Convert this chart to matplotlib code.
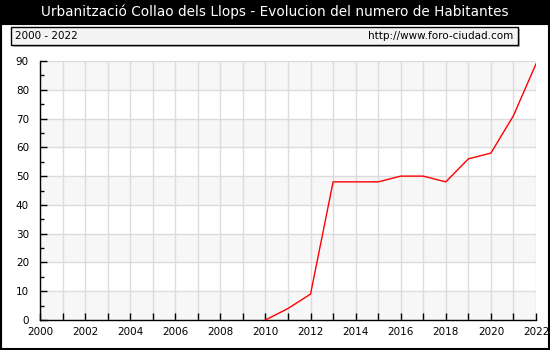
import numpy as np
import matplotlib.pyplot as plt
from matplotlib.patches import Rectangle

years = [2010, 2011, 2012, 2013, 2014, 2015, 2016, 2017, 2018, 2019, 2020, 2021, 2022]
habitantes = [0, 4, 9, 48, 48, 48, 50, 50, 48, 56, 58, 71, 89]

title = "Urbanització Collao dels Llops - Evolucion del numero de Habitantes"
W, H = 550, 350

fig = plt.figure(figsize=(5.5, 3.5), dpi=100)
fig.patch.set_facecolor("white")

# title bar
fig.patches.append(Rectangle((0, 1 - 24 / H), 1, 24 / H, transform=fig.transFigure,
                             facecolor="black", edgecolor="none", zorder=0))
fig.text(0.5, 1 - 12 / H, title, color="white", ha="center", va="center", fontsize=9.8)

# frame around the rest
fig.patches.append(Rectangle((1 / W, 1 / H), 548 / W, (H - 25) / H, transform=fig.transFigure,
                             facecolor="none", edgecolor="black", linewidth=1.5, zorder=0))

# info box with shadow
fig.patches.append(Rectangle((13 / W, 1 - 47 / H), 507 / W, 18 / H, transform=fig.transFigure,
                             facecolor="#bbbbbb", edgecolor="none", zorder=1))
fig.patches.append(Rectangle((11 / W, 1 - 45 / H), 507 / W, 18 / H, transform=fig.transFigure,
                             facecolor="#f4f4f4", edgecolor="black", linewidth=1, zorder=2))
fig.text(15 / W, 1 - 36 / H, "2000 - 2022", fontsize=7.5, va="center", zorder=3)
fig.text(513 / W, 1 - 36 / H, "http://www.foro-ciudad.com", fontsize=7.5, va="center",
         ha="right", zorder=3)

ax = fig.add_axes([40 / W, 1 - 320 / H, 496 / W, 259 / H])
ax.set_xlim(2000, 2022)
ax.set_ylim(0, 90)

for lo in range(0, 90, 20):
    ax.axhspan(lo, lo + 10, color="#f7f7f7", zorder=0, linewidth=0)

ax.set_xticks(range(2000, 2023))
ax.set_xticklabels([str(y) if y % 2 == 0 else "" for y in range(2000, 2023)])
ax.set_yticks(range(0, 91, 10))
ax.set_yticks(range(5, 90, 10), minor=True)
ax.grid(True, which="major", color="#dcdcdc", linewidth=1, zorder=1)
ax.set_axisbelow(True)

ax.plot(years, habitantes, color="red", linewidth=1, zorder=3)

for s in ["top", "right"]:
    ax.spines[s].set_visible(False)
ax.spines["left"].set_linewidth(1)
ax.spines["bottom"].set_linewidth(1)
ax.tick_params(axis="both", labelsize=7.5, width=1, direction="in")
ax.tick_params(axis="y", which="major", length=5, pad=8)
ax.tick_params(axis="y", which="minor", length=3, width=1, direction="in")
ax.tick_params(axis="x", length=5, pad=5)

plt.savefig("out.png", dpi=100)
